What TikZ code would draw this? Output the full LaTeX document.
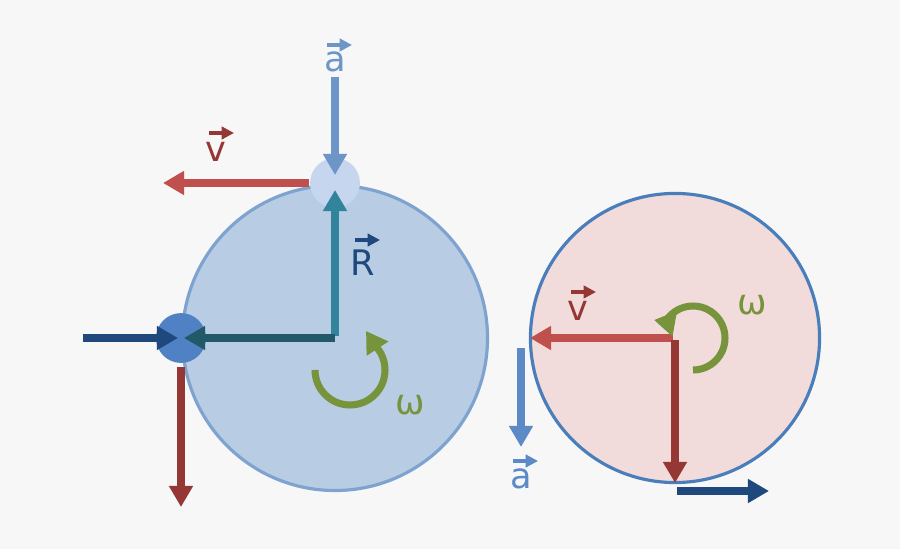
\documentclass[tikz,border=0pt]{standalone}
\usepackage{fontspec}
\setmainfont{DejaVu Sans}
\usetikzlibrary{arrows.meta}
\definecolor{bg}{HTML}{F7F7F7}
\definecolor{lbfill}{HTML}{B8CCE4}
\definecolor{lbline}{HTML}{7EA3CF}
\definecolor{topdot}{HTML}{C5D6EE}
\definecolor{leftdot}{HTML}{4F81C4}
\definecolor{acol}{HTML}{6D95C8}
\definecolor{vcol}{HTML}{C0504D}
\definecolor{vlab}{HTML}{953735}
\definecolor{rcol}{HTML}{31849B}
\definecolor{dteal}{HTML}{215968}
\definecolor{dblue}{HTML}{1F497D}
\definecolor{green}{HTML}{77933C}
\definecolor{pfill}{HTML}{F2DCDB}
\definecolor{pline}{HTML}{4A7EBB}
\definecolor{acol2}{HTML}{5B8AC6}
\begin{document}
\begin{tikzpicture}[x=0.01cm,y=-0.01cm,
  vec/.style={line width=2pt,-{Triangle[length=6pt,width=6.5pt]}},
  small/.style={line width=0.9pt,-{Triangle[length=3.5pt,width=3.5pt]}},
  lab/.style={font=\fontsize{10}{12}\selectfont,inner sep=0pt},
  om/.style={line width=2pt,green,-{Triangle[length=6pt,width=7pt]}}]
\fill[bg] (0,0) rectangle (900,549);
\useasboundingbox (0,0) rectangle (900,549);
% left disc
\node[circle,draw=lbline,fill=lbfill,line width=0.9pt,minimum size=306*0.2835pt,inner sep=0] (c1) at (335,338) {};
\node[circle,fill=topdot,minimum size=50*0.2835pt,inner sep=0] (p1) at (335,183) {};
\node[circle,fill=leftdot,minimum size=50*0.2835pt,inner sep=0] (p2) at (181,338) {};
\coordinate (o1) at (335,338);
\coordinate (a1s) at (335,77);
\draw[vec,acol] (a1s) -- (335,175);
\node[lab,text=acol] (la1) at (335,62) {a};
\draw[small,acol] (327,45) -- (352,45);
\draw[vec,vcol] (p1.west) -- (163,183);
\node[lab,text=vlab] (lv1) at (216,152) {v};
\draw[small,vlab] (209,133) -- (234,133);
\draw[vec,rcol] (335,336) -- (335,190);
\node[lab,text=dblue] (lR) at (363,263) {R};
\draw[small,dblue] (355,240) -- (380,240);
\draw[vec,dteal] (o1) -- (184,338);
\draw[vec,dblue] (83,338) -- (178,338);
\draw[vec,vlab] (181,367) -- (181,507);
\draw[om] (315,370) arc[start angle=180,end angle=-40,radius=35] -- (366,331);
\node[lab,text=green] (w1) at (410,405) {ω};
% right disc
\node[circle,draw=pline,fill=pfill,line width=0.9pt,minimum size=290*0.2835pt,inner sep=0] (c2) at (675,338) {};
\coordinate (o2) at (673,338);
\draw[vec,vcol] (o2) -- (530,338);
\node[lab,text=vlab] (lv2) at (578,311) {v};
\draw[small,vlab] (571,292) -- (596,292);
\draw[vec,vlab] (675,340) -- (675,483);
\draw[vec,dblue] (677,491) -- (769,491);
\draw[vec,acol2] (521,348) -- (521,447);
\node[lab,text=acol2] (la2) at (521,479) {a};
\draw[small,acol2] (513,461) -- (538,461);
\draw[om] (693,370) arc[start angle=90,end angle=-150,radius=32] -- (654,320);
\node[lab,text=green] (w2) at (752,305) {ω};
\end{tikzpicture}
\end{document}
